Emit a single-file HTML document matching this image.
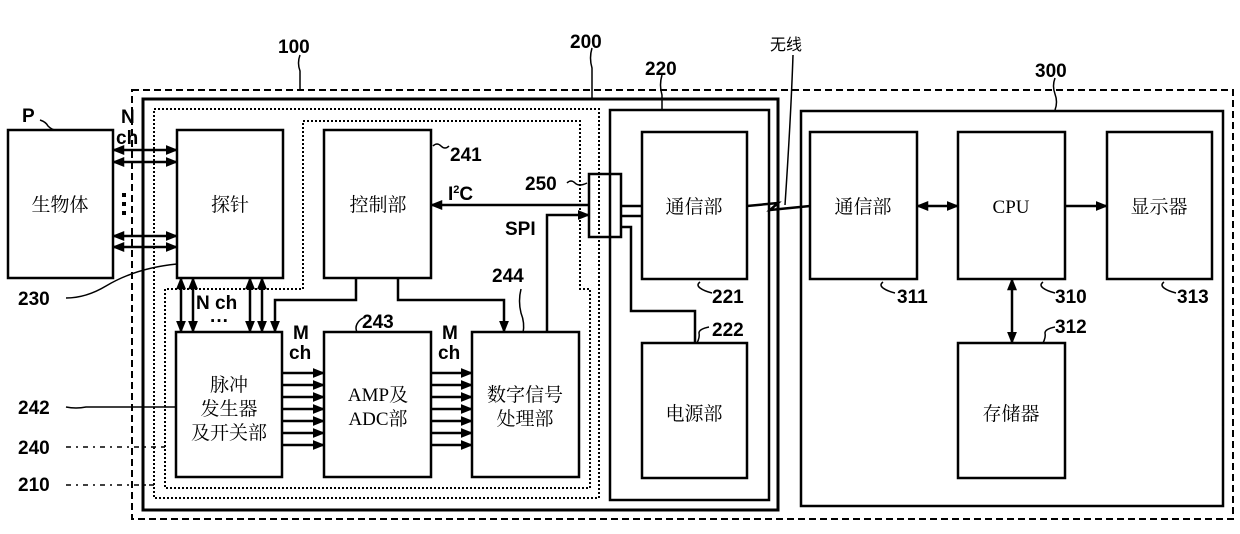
<!DOCTYPE html>
<html><head><meta charset="utf-8"><style>
html,body{margin:0;padding:0;background:#fff;}
svg text{font-family:"Liberation Sans","Noto Sans CJK SC",sans-serif;}
.n{font-weight:bold;font-size:19px;}
svg .c text{font-family:"Liberation Serif","Noto Serif CJK SC",serif;font-size:19px;}
</style></head><body>
<svg width="1240" height="529" viewBox="0 0 1240 529" xmlns="http://www.w3.org/2000/svg">
<defs>
<marker id="a" viewBox="0 0 10 10" refX="9" refY="5" markerWidth="5" markerHeight="5" orient="auto-start-reverse"><path d="M0,1 L10,5 L0,9 z" fill="#000"/></marker>
</defs>
<g fill="none" stroke="#000">
<rect x="132" y="90" width="1101" height="429" stroke-width="2" stroke-dasharray="7,4"/>
<rect x="143" y="99" width="635" height="411" stroke-width="3"/>
<rect x="154" y="109" width="445" height="389" stroke-width="2" stroke-dasharray="2,2"/>
<path d="M303,121 H580 V289 H590 V488 H165 V289 H303 Z" stroke-width="2" stroke-dasharray="2,2"/>
<rect x="610" y="110" width="159" height="390" stroke-width="2.5"/>
<rect x="801" y="111" width="422" height="395" stroke-width="2.5"/>
<g stroke-width="2.5">
<rect x="8" y="130" width="105" height="148"/>
<rect x="177" y="130" width="106" height="148"/>
<rect x="324" y="130" width="107" height="148"/>
<rect x="176" y="332" width="106" height="145"/>
<rect x="324" y="332" width="107" height="145"/>
<rect x="472" y="332" width="107" height="145"/>
<rect x="589" y="174" width="32" height="63"/>
<rect x="642" y="132" width="105" height="147"/>
<rect x="642" y="343" width="105" height="135"/>
<rect x="810" y="132" width="107" height="147"/>
<rect x="958" y="132" width="107" height="147"/>
<rect x="1107" y="132" width="105" height="147"/>
<rect x="958" y="343" width="107" height="135"/>
</g>
<g stroke-width="2.5" marker-start="url(#a)" marker-end="url(#a)">
<line x1="113" y1="150" x2="177" y2="150"/>
<line x1="113" y1="162" x2="177" y2="162"/>
<line x1="113" y1="236" x2="177" y2="236"/>
<line x1="113" y1="247" x2="177" y2="247"/>
<line x1="181" y1="278" x2="181" y2="332"/>
<line x1="193" y1="278" x2="193" y2="332"/>
<line x1="250" y1="278" x2="250" y2="332"/>
<line x1="262" y1="278" x2="262" y2="332"/>
<line x1="917" y1="206" x2="958" y2="206"/>
<line x1="1012" y1="279" x2="1012" y2="343"/>
</g>
<g stroke-width="2.5" marker-end="url(#a)">
<path d="M356,278 V300 H275 V332"/>
<path d="M398,278 V300 H504 V332"/>
<line x1="589" y1="205" x2="431" y2="205"/>
<path d="M547,332 V215 H589"/>
<line x1="1065" y1="206" x2="1107" y2="206"/>
<line x1="282" y1="373" x2="324" y2="373"/><line x1="282" y1="385" x2="324" y2="385"/><line x1="282" y1="397" x2="324" y2="397"/><line x1="282" y1="409" x2="324" y2="409"/><line x1="282" y1="421" x2="324" y2="421"/><line x1="282" y1="433" x2="324" y2="433"/><line x1="282" y1="445" x2="324" y2="445"/>
<line x1="431" y1="373" x2="472" y2="373"/><line x1="431" y1="385" x2="472" y2="385"/><line x1="431" y1="397" x2="472" y2="397"/><line x1="431" y1="409" x2="472" y2="409"/><line x1="431" y1="421" x2="472" y2="421"/><line x1="431" y1="433" x2="472" y2="433"/><line x1="431" y1="445" x2="472" y2="445"/>
</g>
<g stroke-width="2.5">
<line x1="621" y1="206" x2="642" y2="206"/>
<line x1="621" y1="216" x2="642" y2="216"/>
<path d="M621,227 H631 V311 H695 V343"/>
<path d="M747,206 L778,203 L770,210 L810,206"/>
</g>
<g stroke-width="1.5">
<path d="M300,55 q-3,8 0,16 V90"/>
<path d="M592,48 q-3,10 0,20 V99"/>
<path d="M662,75 q-3,10 0,20 V110"/>
<path d="M1055,78 q-3,8 0,16 q3,8 0,16"/>
<path d="M793,55 q-2,60 -8,150"/>
<path d="M40,120 q6,2 8,6 q4,4 8,4"/>
<path d="M66,298 q20,0 40,-12 q30,-18 71,-22"/>
<path d="M66,407 q10,2 20,0 H176"/>
<path d="M66,447 h5 M76,447 h2 M83,447 h5 M93,447 h2 M100,447 h5 M110,447 h2 M117,447 h5 M127,447 h2 M134,447 h5 M144,447 h2 M151,447 h5 M161,447 h4"/>
<path d="M66,485 h5 M76,485 h2 M83,485 h5 M93,485 h2 M100,485 h5 M110,485 h2 M117,485 h5 M127,485 h2 M134,485 h5 M144,485 h2 M149,485 h5"/>
<path d="M433,146 q4,-4 8,0 q4,4 8,0"/>
<path d="M567,183 q4,-4 8,0 q4,4 12,0"/>
<path d="M523,333 q2,-10 -2,-20 q-3,-12 0,-24"/>
<path d="M357,332 q-2,-4 0,-8 q2,-4 6,-6"/>
<path d="M700,282 q-4,3 0,6 q4,3 12,5"/>
<path d="M697,343 q3,-6 2,-10 q0,-4 10,-6"/>
<path d="M883,282 q-4,3 0,6 q4,3 12,5"/>
<path d="M1043,282 q-4,3 0,6 q4,3 12,5"/>
<path d="M1043,343 q3,-6 2,-10 q0,-4 10,-6"/>
<path d="M1164,282 q-4,3 0,6 q4,3 12,5"/>
</g>
</g>
<g fill="#000">
<rect x="122" y="193" width="4" height="4"/><rect x="122" y="202" width="4" height="4"/><rect x="122" y="211" width="4" height="4"/>
<text class="n" x="278" y="53">100</text>
<text class="n" x="570" y="48">200</text>
<text class="n" x="645" y="75">220</text>
<text class="n" x="1035" y="77">300</text>
<text x="770" y="50" font-size="16">无线</text>
<text class="n" x="22" y="122" font-size="21">P</text>
<text class="n" x="121" y="123">N</text>
<text class="n" x="116" y="144">ch</text>
<text class="n" x="450" y="161">241</text>
<text class="n" x="525" y="190">250</text>
<text class="n" x="448" y="200">I<tspan font-size="11" dy="-7">2</tspan><tspan dy="7">C</tspan></text>
<text class="n" x="505" y="235">SPI</text>
<text class="n" x="492" y="282">244</text>
<text class="n" x="362" y="328">243</text>
<text class="n" x="293" y="339">M</text>
<text class="n" x="289" y="359">ch</text>
<text class="n" x="442" y="339">M</text>
<text class="n" x="438" y="359">ch</text>
<text class="n" x="196" y="309">N ch</text>
<text class="n" x="210" y="327">···</text>
<text class="n" x="18" y="305">230</text>
<text class="n" x="18" y="414">242</text>
<text class="n" x="18" y="454">240</text>
<text class="n" x="18" y="491">210</text>
<text class="n" x="712" y="303">221</text>
<text class="n" x="712" y="336">222</text>
<text class="n" x="897" y="303">311</text>
<text class="n" x="1055" y="303">310</text>
<text class="n" x="1055" y="333">312</text>
<text class="n" x="1177" y="303">313</text>
<g class="c" text-anchor="middle">
<text x="60" y="211">生物体</text>
<text x="230" y="211">探针</text>
<text x="378" y="211">控制部</text>
<text x="229" y="391">脉冲</text>
<text x="229" y="415">发生器</text>
<text x="229" y="439">及开关部</text>
<text x="378" y="401">AMP及</text>
<text x="378" y="425">ADC部</text>
<text x="525" y="401">数字信号</text>
<text x="525" y="425">处理部</text>
<text x="694" y="213">通信部</text>
<text x="694" y="420">电源部</text>
<text x="863" y="213">通信部</text>
<text x="1011" y="213">CPU</text>
<text x="1159" y="213">显示器</text>
<text x="1011" y="420">存储器</text>
</g>
</g>
</svg>
</body></html>
